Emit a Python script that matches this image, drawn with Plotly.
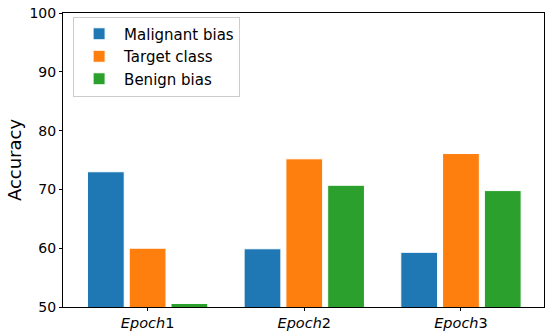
import plotly.graph_objects as go

categories = ["Epoch1", "Epoch2", "Epoch3"]
tick_labels = ["<i>Epoch</i>1", "<i>Epoch</i>2", "<i>Epoch</i>3"]
malignant_bias = [73.0, 59.9, 59.3]
target_class = [60.0, 75.2, 76.1]
benign_bias = [50.6, 70.7, 69.8]

series = [
    ("Malignant bias", malignant_bias, "#1f77b4"),
    ("Target class", target_class, "#ff7f0e"),
    ("Benign bias", benign_bias, "#2ca02c"),
]

font_family = "DejaVu Sans"
fig = go.Figure()
for name, vals, color in series:
    fig.add_trace(go.Bar(
        x=categories, y=vals, name=name,
        marker=dict(color=color, line=dict(color="white", width=1)),
    ))

fig.update_layout(
    width=550, height=336,
    margin=dict(l=63, r=5, t=11, b=28),
    paper_bgcolor="white", plot_bgcolor="white",
    barmode="group", bargap=0.2, bargroupgap=0.12,
    font=dict(family=font_family, size=14, color="black"),
    showlegend=True,
    legend=dict(
        x=0.021, y=0.988, xanchor="left", yanchor="top",
        bgcolor="rgba(255,255,255,0.8)", bordercolor="#cccccc", borderwidth=1,
        font=dict(family=font_family, size=15),
        itemwidth=40, tracegroupgap=0,
    ),
    xaxis=dict(
        type="category", range=[-0.54, 2.53],
        tickmode="array", tickvals=categories, ticktext=tick_labels,
        showline=True, linecolor="black", linewidth=1, mirror=True,
        ticks="outside", ticklen=3, tickcolor="black",
        showgrid=False, zeroline=False,
        tickfont=dict(family=font_family, size=14.5),
    ),
    yaxis=dict(
        range=[50, 100], tickvals=[50, 60, 70, 80, 90, 100],
        showline=True, linecolor="black", linewidth=1, mirror=True,
        ticks="outside", ticklen=3, tickcolor="black",
        showgrid=False, zeroline=False,
        title=dict(text="Accuracy", font=dict(family=font_family, size=18), standoff=3),
        tickfont=dict(family=font_family, size=14),
    ),
)

fig.write_html(
    "out.html",
    config={"displayModeBar": False},
    post_script="document.body.style.margin='0';document.body.style.overflow='hidden';",
)
